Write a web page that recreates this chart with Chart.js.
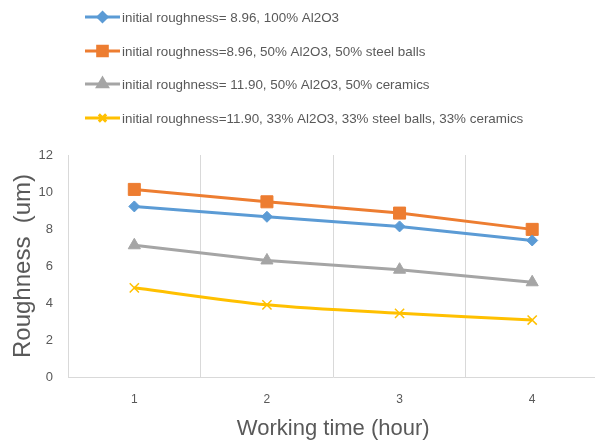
<!DOCTYPE html>
<html>
<head>
<meta charset="utf-8">
<script src="https://cdn.jsdelivr.net/npm/chart.js@4/dist/chart.umd.min.js"></script>
<style>
  html, body { margin: 0; padding: 0; background: #fff; overflow: hidden; }
  #wrap { width: 595px; height: 442px; position: relative; overflow: hidden; }
  #c { position: absolute; left: 0; top: 0; }
</style>
</head>
<body>
<div id="wrap"><canvas id="c" width="608" height="442"></canvas></div>
<script>
// Working time categories (hours)
const hours = ['1', '2', '3', '4'];

// Surface roughness (um) for each media mix
const al2o3Only   = [9.22, 8.66, 8.14, 7.38];
const al2o3Steel  = [10.14, 9.47, 8.86, 7.98];
const al2o3Ceram  = [7.12, 6.30, 5.80, 5.12];
const threeMix    = [4.82, 3.90, 3.44, 3.08];

const seriesNames = [
  'initial roughness= 8.96, 100% Al2O3',
  'initial roughness=8.96, 50% Al2O3, 50% steel balls',
  'initial roughness= 11.90, 50% Al2O3, 50% ceramics',
  'initial roughness=11.90, 33% Al2O3, 33% steel balls, 33% ceramics'
];

const yTicks = [0, 2, 4, 6, 8, 10, 12];

const FONT = '"Liberation Sans", Arial, sans-serif';
const TEXT = '#595959';
const GRID = '#d9d9d9';

// Vertical legend in the top-left corner: line + marker + label
const stackedLegend = {
  id: 'stackedLegend',
  afterDraw(chart) {
    const ctx = chart.ctx;
    const x0 = 85, x1 = 120, rows = [17, 51, 84, 118];
    ctx.save();
    chart.data.datasets.forEach((ds, i) => {
      const y = rows[i];
      ctx.strokeStyle = ds.borderColor;
      ctx.lineWidth = 3;
      ctx.beginPath();
      ctx.moveTo(x0, y);
      ctx.lineTo(x1, y);
      ctx.stroke();
      ctx.fillStyle = ds.pointBackgroundColor;
      ctx.strokeStyle = ds.pointBorderColor;
      Chart.helpers.drawPoint(ctx, {
        pointStyle: ds.pointStyle,
        radius: ds.pointRadius * 0.8,
        borderWidth: ds.pointBorderWidth,
        rotation: 0
      }, (x0 + x1) / 2, y);
      ctx.fillStyle = TEXT;
      ctx.font = '13.4px ' + FONT;
      ctx.textBaseline = 'middle';
      ctx.textAlign = 'left';
      ctx.fillText(ds.label, x1 + 2, y + 1);
    });
    ctx.restore();
  }
};

function series(label, data, color, style, radius, extra) {
  return Object.assign({
    label, data,
    borderColor: color,
    backgroundColor: color,
    pointBackgroundColor: color,
    pointBorderColor: color,
    pointStyle: style,
    pointRadius: radius,
    pointHoverRadius: radius,
    pointBorderWidth: 1,
    borderWidth: 3,
    tension: 0
  }, extra || {});
}

new Chart(document.getElementById('c'), {
  type: 'line',
  data: {
    labels: hours,
    datasets: [
      series(seriesNames[0], al2o3Only,  '#5b9bd5', 'rectRot', 5.5),
      series(seriesNames[1], al2o3Steel, '#ed7d31', 'rect', 8.5),
      series(seriesNames[2], al2o3Ceram, '#a5a5a5', 'triangle', 7),
      series(seriesNames[3], threeMix,   '#ffc000', 'crossRot', 6.5,
             { pointBorderWidth: 1.5, tension: 0.3 })
    ]
  },
  options: {
    responsive: false,
    animation: false,
    layout: { padding: { top: 155, left: 0, right: 0, bottom: 0 } },
    plugins: {
      legend: { display: false },
      tooltip: { enabled: false }
    },
    scales: {
      x: {
        offset: true,
        grid: { offset: true, color: GRID, lineWidth: 1, drawTicks: false },
        border: { color: GRID, width: 1 },
        ticks: { color: TEXT, font: { family: FONT, size: 12 }, padding: 15 },
        title: {
          display: true, text: 'Working time (hour)', color: TEXT,
          font: { family: FONT, size: 22 }, padding: { top: 4, bottom: 0 }
        },
        afterFit(scale) { scale.height = 65; }
      },
      y: {
        min: 0, max: 12,
        afterBuildTicks(scale) { scale.ticks = yTicks.map(v => ({ value: v })); },
        grid: { display: false, drawTicks: false },
        border: { color: GRID, width: 1 },
        ticks: { color: TEXT, font: { family: FONT, size: 13 }, padding: 15 },
        title: {
          display: true, text: 'Roughness  (um)', color: TEXT,
          font: { family: FONT, size: 24 }, padding: { top: 9, bottom: 0 }
        },
        afterFit(scale) { scale.width = 68; }
      }
    }
  },
  plugins: [stackedLegend]
});
</script>
</body>
</html>
